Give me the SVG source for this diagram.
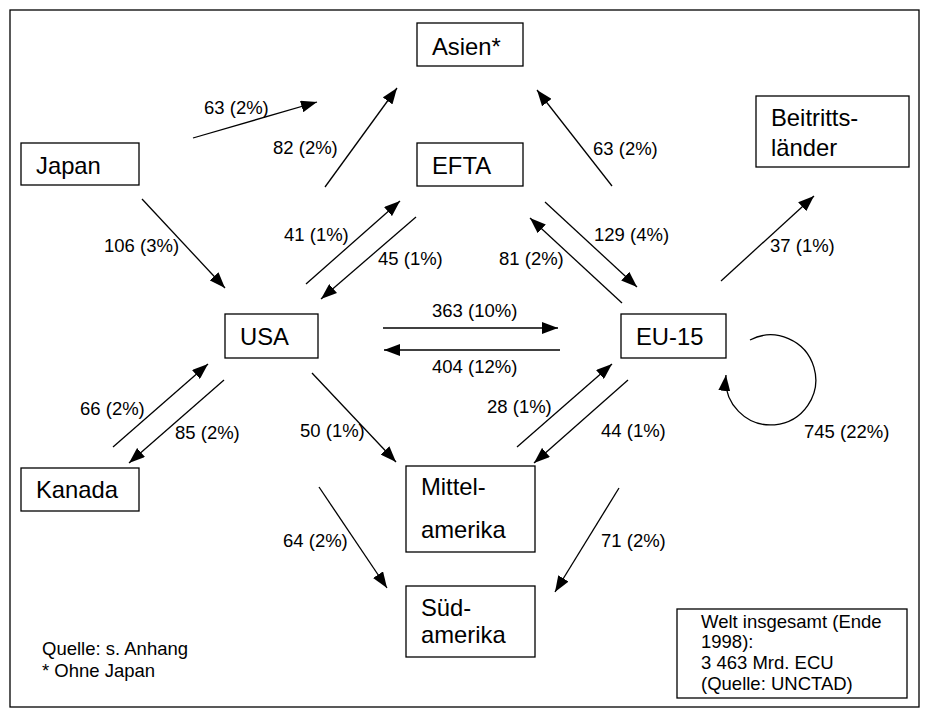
<svg xmlns="http://www.w3.org/2000/svg" width="928" height="710" viewBox="0 0 928 710">
<style>
.box{fill:#fff;stroke:#000;stroke-width:1.3}
.n{font-family:"Liberation Sans",Arial,sans-serif;font-size:23.8px;fill:#000}
.l{font-family:"Liberation Sans",Arial,sans-serif;font-size:18.5px;fill:#000}
.c{fill:none;stroke:#000;stroke-width:1.3;marker-end:url(#ah)}
</style>
<defs>
<marker id="ah" markerUnits="userSpaceOnUse" markerWidth="16" markerHeight="12" refX="16" refY="6" orient="auto">
<path d="M0,0 L16,6 L0,12 Z" fill="#000"/>
</marker>
</defs>
<rect x="0" y="0" width="928" height="710" fill="#fff"/>
<rect x="10" y="10" width="909" height="697" fill="none" stroke="#000" stroke-width="1.3"/>

<g id="asien"><rect class="box" x="417" y="23" width="106" height="43"/><text class="n" x="432" y="55">Asien*</text></g>
<g id="japan"><rect class="box" x="21" y="143" width="118" height="42"/><text class="n" x="36" y="174">Japan</text></g>
<g id="efta"><rect class="box" x="417" y="143" width="106" height="43"/><text class="n" x="432" y="174">EFTA</text></g>
<g id="beitritt"><rect class="box" x="756" y="96" width="153" height="71"/><text class="n" x="771" y="126">Beitritts-</text><text class="n" x="771" y="156">länder</text></g>
<g id="usa"><rect class="box" x="225" y="314" width="93" height="44"/><text class="n" x="240" y="345">USA</text></g>
<g id="eu15"><rect class="box" x="621" y="314" width="105" height="44"/><text class="n" x="636" y="345">EU-15</text></g>
<g id="kanada"><rect class="box" x="21" y="468" width="118" height="43"/><text class="n" x="36" y="498">Kanada</text></g>
<g id="mittelamerika"><rect class="box" x="406" y="466" width="129" height="86"/><text class="n" x="421" y="495">Mittel-</text><text class="n" x="421" y="538">amerika</text></g>
<g id="suedamerika"><rect class="box" x="406" y="586" width="129" height="71"/><text class="n" x="421" y="616">Süd-</text><text class="n" x="421" y="643">amerika</text></g>
<g id="welt"><rect class="box" x="677" y="609" width="230" height="89"/>
<text class="l" x="701" y="628">Welt insgesamt (Ende</text>
<text class="l" x="701" y="648">1998):</text>
<text class="l" x="701" y="669">3 463 Mrd. ECU</text>
<text class="l" x="701" y="690">(Quelle: UNCTAD)</text></g>
<g id="notes"><text class="l" x="42" y="655">Quelle: s. Anhang</text><text class="l" x="42" y="677">* Ohne Japan</text></g>

<g id="connectors">
<line class="c" x1="193" y1="138" x2="317" y2="102"/>
<line class="c" x1="325" y1="187" x2="397" y2="88"/>
<line class="c" x1="612" y1="186" x2="537" y2="90"/>
<line class="c" x1="142" y1="199" x2="225" y2="288"/>
<line class="c" x1="306" y1="284" x2="400" y2="201"/>
<line class="c" x1="416" y1="217" x2="321" y2="299"/>
<line class="c" x1="545" y1="202" x2="637" y2="287"/>
<line class="c" x1="622" y1="303" x2="530" y2="218"/>
<line class="c" x1="721" y1="281" x2="814" y2="196"/>
<line class="c" x1="383" y1="328" x2="558" y2="328"/>
<line class="c" x1="560" y1="350" x2="384" y2="350"/>
<line class="c" x1="312" y1="373" x2="396" y2="462"/>
<line class="c" x1="628" y1="380" x2="534" y2="463"/>
<line class="c" x1="517" y1="447" x2="612" y2="364"/>
<line class="c" x1="113" y1="447" x2="208" y2="364"/>
<line class="c" x1="224" y1="380" x2="129" y2="463"/>
<line class="c" x1="319" y1="487" x2="387" y2="588"/>
<line class="c" x1="619" y1="488" x2="555" y2="592"/>
<path class="c" d="M750,340 A45,45 0 1 1 726,375"/>
</g>
<g id="labels">
<text class="l" x="204" y="114">63 (2%)</text>
<text class="l" x="273" y="154">82 (2%)</text>
<text class="l" x="593" y="155">63 (2%)</text>
<text class="l" x="104" y="252">106 (3%)</text>
<text class="l" x="284" y="241">41 (1%)</text>
<text class="l" x="378" y="265">45 (1%)</text>
<text class="l" x="594" y="241">129 (4%)</text>
<text class="l" x="499" y="265">81 (2%)</text>
<text class="l" x="770" y="252">37 (1%)</text>
<text class="l" x="432" y="317">363 (10%)</text>
<text class="l" x="432" y="373">404 (12%)</text>
<text class="l" x="300" y="437">50 (1%)</text>
<text class="l" x="601" y="437">44 (1%)</text>
<text class="l" x="487" y="413">28 (1%)</text>
<text class="l" x="80" y="415">66 (2%)</text>
<text class="l" x="175" y="439">85 (2%)</text>
<text class="l" x="283" y="547">64 (2%)</text>
<text class="l" x="601" y="547">71 (2%)</text>
<text class="l" x="804" y="438">745 (22%)</text>
</g>
</svg>
